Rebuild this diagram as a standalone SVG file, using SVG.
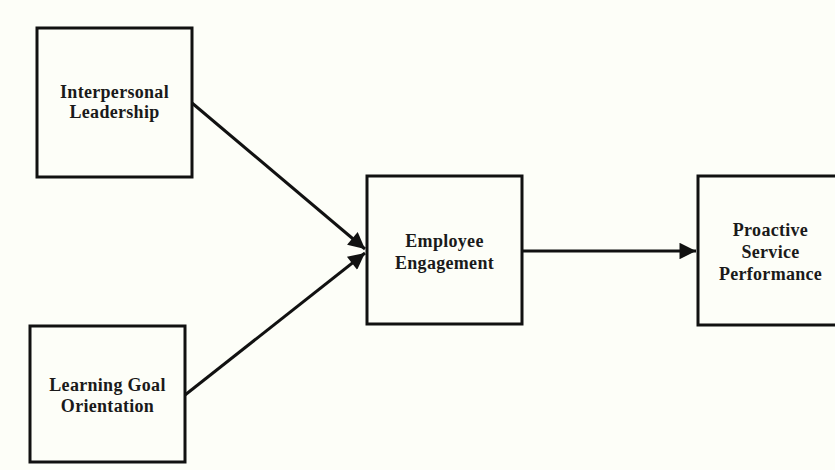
<svg xmlns="http://www.w3.org/2000/svg" width="835" height="470" viewBox="0 0 835 470">
  <style>
    .box { fill: #fdfef8; stroke: #111; stroke-width: 3; }
    .lbl { font-family: "Liberation Serif", "Times New Roman", serif; font-weight: bold; font-size: 18px; letter-spacing: 0.3px; fill: #1a1a1a; text-anchor: middle; }
    .conn { stroke: #111; stroke-width: 3; fill: none; marker-end: url(#arrow); }
  </style>
  <defs>
    <marker id="arrow" viewBox="0 0 10 10" refX="10" refY="5" markerWidth="7" markerHeight="5.5" markerUnits="strokeWidth" orient="auto">
      <path d="M0,0 L10,5 L0,10 z" fill="#111"/>
    </marker>
  </defs>
  <rect x="0" y="0" width="835" height="470" fill="#fdfef8"/>
  <g id="node-interpersonal">
    <rect class="box" x="37" y="28" width="155" height="149"/>
    <text class="lbl" x="114.5" y="98">Interpersonal</text>
    <text class="lbl" x="114.5" y="118">Leadership</text>
  </g>
  <g id="node-learning">
    <rect class="box" x="30" y="326" width="155" height="136"/>
    <text class="lbl" x="107.5" y="391">Learning Goal</text>
    <text class="lbl" x="107.5" y="412">Orientation</text>
  </g>
  <g id="node-engagement">
    <rect class="box" x="367" y="176" width="155" height="148"/>
    <text class="lbl" x="444.5" y="247">Employee</text>
    <text class="lbl" x="444.5" y="269">Engagement</text>
  </g>
  <g id="node-proactive">
    <rect class="box" x="698" y="176" width="145" height="149"/>
    <text class="lbl" x="770.5" y="236">Proactive</text>
    <text class="lbl" x="770.5" y="258">Service</text>
    <text class="lbl" x="770.5" y="280">Performance</text>
  </g>
  <g id="connectors">
    <line class="conn" x1="192" y1="103" x2="365" y2="249"/>
    <line class="conn" x1="185" y1="395" x2="365" y2="253"/>
    <line class="conn" x1="522" y1="251" x2="696" y2="251"/>
  </g>
</svg>
